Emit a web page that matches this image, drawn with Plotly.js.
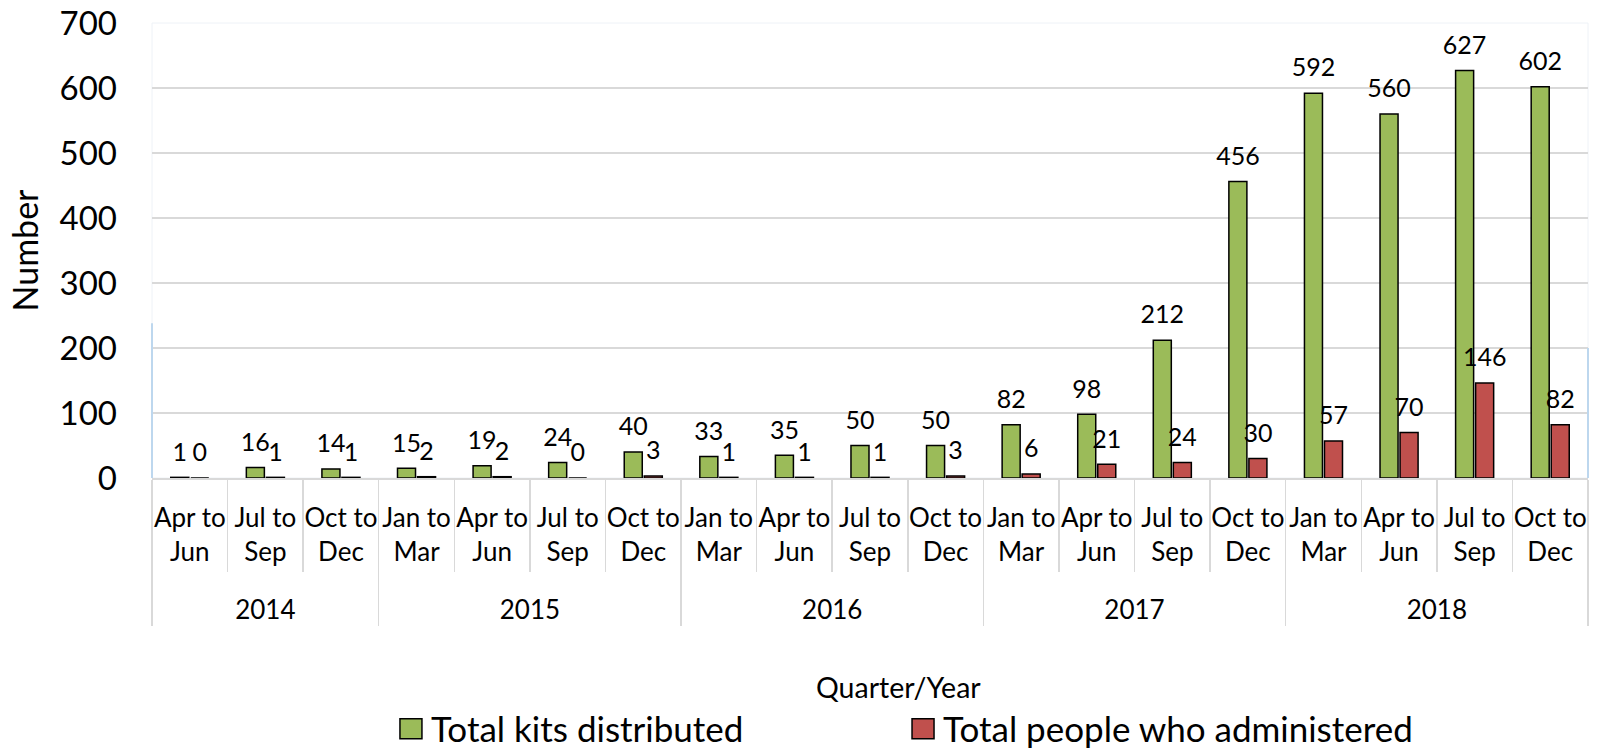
<!DOCTYPE html>
<html><head><meta charset="utf-8">
<script src="https://cdn.plot.ly/plotly-3.0.1.min.js"></script>
<style>html,body{margin:0;padding:0;background:#fff}#chart{width:1599px;height:755px}</style>
</head><body><div id="chart"></div>
<script>
const years = ["2014","2014","2014","2015","2015","2015","2015","2016","2016","2016","2016","2017","2017","2017","2017","2018","2018","2018","2018"];
const quarters = ["Apr to<br>Jun","Jul to<br>Sep","Oct to<br>Dec","Jan to<br>Mar","Apr to<br>Jun","Jul to<br>Sep","Oct to<br>Dec","Jan to<br>Mar","Apr to<br>Jun","Jul to<br>Sep","Oct to<br>Dec","Jan to<br>Mar","Apr to<br>Jun","Jul to<br>Sep","Oct to<br>Dec","Jan to<br>Mar","Apr to<br>Jun","Jul to<br>Sep","Oct to<br>Dec"];
const kits = [1,16,14,15,19,24,40,33,35,50,50,82,98,212,456,592,560,627,602];
const people = [0,1,1,2,2,0,3,1,1,1,3,6,21,24,30,57,70,146,82];
const seriesNames = ["Total kits distributed","Total people who administered"];
const yTicks = [0,100,200,300,400,500,600,700];

// display keys: an empty trailing line leaves room above the year row, and a zero-width
// mark keeps the first year's quarters distinct so plotly keeps chronological order
const quarterKeys = quarters.map((q, i) =>
  (years[i] === years[0] ? '\u200B' : '') + q + "<br><span style='font-size:60px'>\u00A0</span>");

const FONT = "Lato, 'Open Sans', sans-serif";
const label = v => "<span style='font-size:25px'>" + v + "</span><br>\u00A0";
const common = {type:'bar', textposition:'outside', cliponaxis:false, constraintext:'none',
  textfont:{size:9, color:'#000', family:FONT}, hoverinfo:'y'};
const traces = [
  Object.assign({}, common, {name:seriesNames[0], x:[years, quarterKeys], y:kits, text:kits.map(label),
    legend:'legend', marker:{color:'#9BBB59', line:{color:'#000', width:1.5}}}),
  Object.assign({}, common, {name:seriesNames[1], x:[years, quarterKeys], y:people, text:people.map(label),
    legend:'legend2', marker:{color:'#C0504D', line:{color:'#000', width:1.5}}})
];
const legendCommon = {orientation:'h', xanchor:'left', y:-0.5516, yanchor:'middle',
  font:{size:35, color:'#000', family:FONT}, bgcolor:'rgba(0,0,0,0)'};
const layout = {
  width:1599, height:755,
  margin:{l:152, r:11, t:23, b:277, pad:0, autoexpand:false},
  paper_bgcolor:'#fff', plot_bgcolor:'#fff',
  barmode:'group', bargap:0.47, bargroupgap:0.1,
  font:{family:FONT, color:'#000'},
  xaxis:{type:'multicategory', tickson:'boundaries', ticks:'outside', ticklen:92, tickcolor:'#D9D9D9', tickwidth:1.5,
    showdividers:true, dividercolor:'#D9D9D9', dividerwidth:1.5, tickangle:0,
    showline:true, linecolor:'#D9D9D9', linewidth:1.5, showgrid:false,
    tickfont:{size:26, color:'#000'}, ticklabelstandoff:16, automargin:false},
  yaxis:{range:[0,700], tickvals:yTicks, gridcolor:'#D9D9D9', gridwidth:1.5, zeroline:false, showline:false,
    tickfont:{size:33, color:'#000'}, ticklabelstandoff:34, automargin:false,
    title:{text:'Number', font:{size:34, color:'#000'}, standoff:10}},
  annotations:[
    {text:'Quarter/Year', xref:'paper', yref:'paper', x:0.5195, y:-0.459, xanchor:'center', yanchor:'middle',
     showarrow:false, font:{size:28.5, color:'#000', family:FONT}}
  ],
  showlegend:true,
  legend:Object.assign({}, legendCommon, {x:0.1664}),
  legend2:Object.assign({}, legendCommon, {x:0.5230}),
  shapes:[
    {type:'line', xref:'paper', yref:'y', x0:0, x1:0, y0:0, y1:238, line:{color:'#BDD7EE', width:2}},
    {type:'line', xref:'paper', yref:'y', x0:1, x1:1, y0:0, y1:200, line:{color:'#BDD7EE', width:2}},
    {type:'rect', xref:'paper', yref:'paper', x0:0, x1:1, y0:0, y1:1, line:{color:'#EEF2F7', width:1}, layer:'below'}
  ]
};
Plotly.newPlot('chart', traces, layout, {displayModeBar:false, staticPlot:true}).then(() => {
  // enlarge legend swatches (both legends) to match the reference
  document.querySelectorAll('.legendpoints path').forEach(p => {
    p.setAttribute('d', 'M11,10H-11V-10H11Z');
  });
});
</script>
</body></html>
